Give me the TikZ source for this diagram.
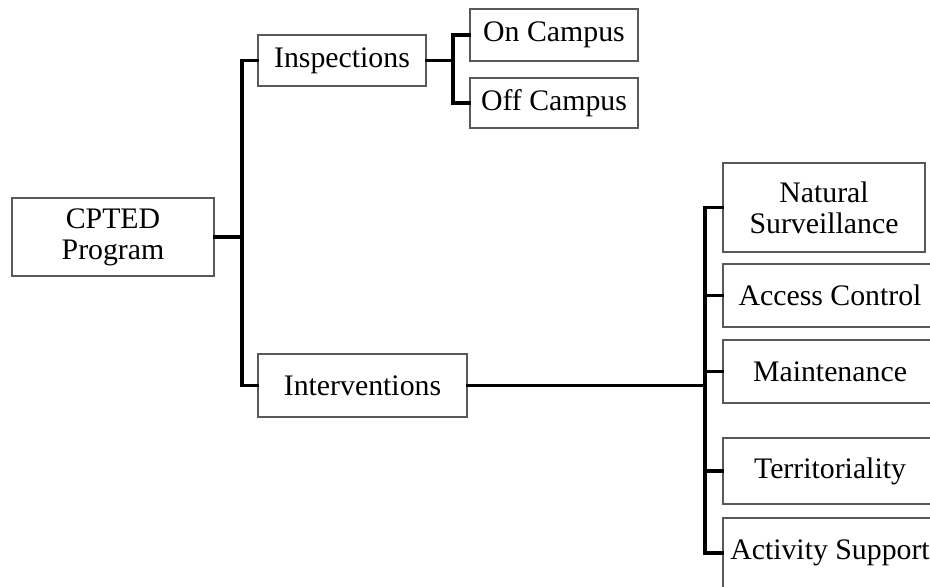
\documentclass[tikz,border=0pt]{standalone}
\usepackage{fontspec}
\setmainfont{Liberation Serif}
\begin{document}
\begin{tikzpicture}[x=0.5pt,y=-0.5pt,
    box/.style={draw=black!65,line width=0.6pt,fill=white,inner sep=0pt,
      align=center,font=\fontsize{14.9}{15.6}\selectfont},
    conn/.style={line width=1.7pt,line cap=rect}]
  \clip (0,0) rectangle (930,586);
  \fill[white] (0,0) rectangle (930,586);
  \draw
    (113,237) node[box,minimum width=101pt,minimum height=39pt] (cpted){CPTED\\Program}
    (342,60.5) node[box,minimum width=84pt,minimum height=25.5pt] (insp){Inspections}
    (554,35) node[box,minimum width=84pt,minimum height=26pt] (oncamp){On Campus}
    (554,103) node[box,minimum width=84pt,minimum height=25pt] (offcamp){Off Campus}
    (362.5,385.5) node[box,minimum width=104.5pt,minimum height=31.5pt] (interv){Interventions}
    (824,207.5) node[box,minimum width=101pt,minimum height=44.5pt] (natsurv){Natural\\Surveillance}
    (830,295.5) node[box,minimum width=107pt,minimum height=31.5pt] (access){Access Control}
    (830,371.5) node[box,minimum width=107pt,minimum height=31.5pt] (maint){Maintenance}
    (830,471) node[box,minimum width=107pt,minimum height=33pt] (territ){Territoriality}
    (830,553) node[box,minimum width=107pt,minimum height=35pt] (actsupp){Activity Support};
  \coordinate (j1) at (242,237);
  \coordinate (j2) at (453,69);
  \coordinate (j3) at (705,385.5);
  \begin{scope}[conn]
    \draw (cpted.east) -- (j1);
    \draw (insp.west) -| (j1) |- (interv.west);
    \draw (insp.east) -- (insp.east -| j2);
    \draw (oncamp.west) -| (j2) |- (offcamp.west);
    \draw (interv.east) -- (j3);
    \draw (natsurv.west) -| (j3) |- (actsupp.west);
    \draw (access.west) -- (access.west -| j3);
    \draw (maint.west) -- (maint.west -| j3);
    \draw (territ.west) -- (territ.west -| j3);
  \end{scope}
\end{tikzpicture}
\end{document}
